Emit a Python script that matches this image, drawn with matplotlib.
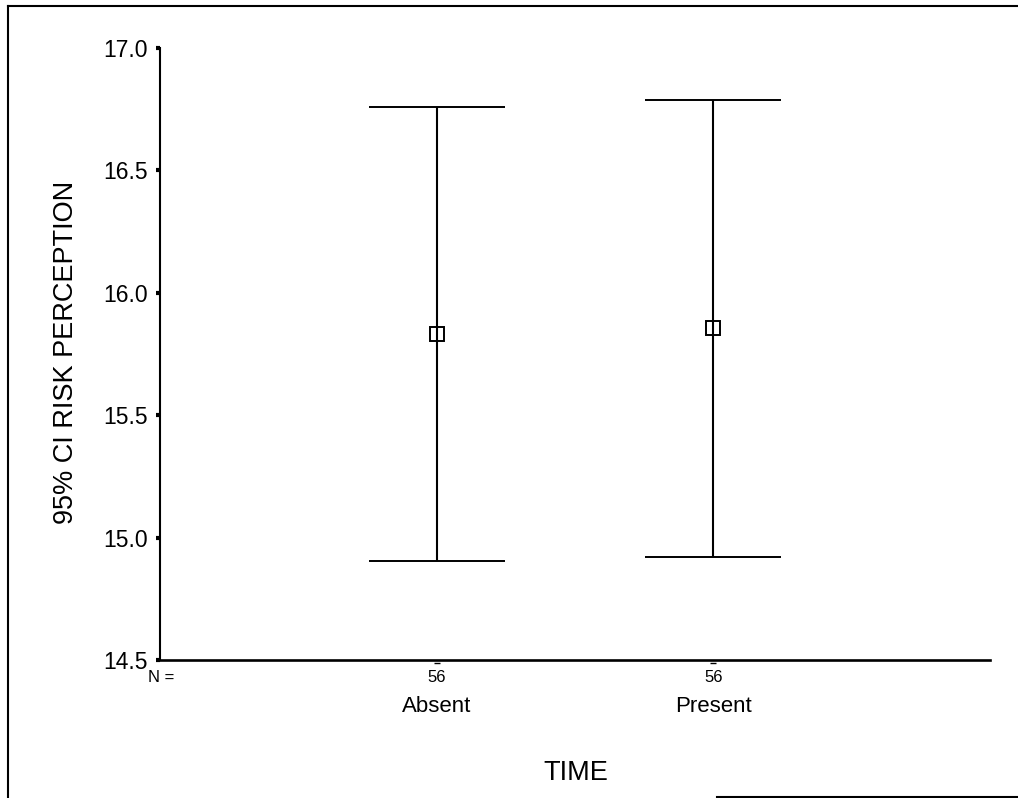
import matplotlib
matplotlib.use("Agg")
import matplotlib.pyplot as plt
import matplotlib.transforms as mtransforms
from matplotlib.lines import Line2D

# ---- data ----
categories = ["Absent", "Present"]
means = [15.83, 15.855]
ci_lower = [14.904, 14.921]
ci_upper = [16.759, 16.788]
n_values = [56, 56]
y_ticks = [14.5, 15.0, 15.5, 16.0, 16.5, 17.0]
y_label = "95% CI RISK PERCEPTION"
x_label = "TIME"

plt.rcParams["font.family"] = ["Liberation Sans", "DejaVu Sans"]

W, H = 1018, 798
fig = plt.figure(figsize=(W / 100, H / 100), dpi=100)
ax = fig.add_axes([160 / W, 1 - 660 / H, (990 - 160) / W, (660 - 48) / H])

xpos = [i + 1 for i in range(len(categories))]
err_lo = [m - l for m, l in zip(means, ci_lower)]
err_hi = [u - m for m, u in zip(means, ci_upper)]
ax.errorbar(xpos, means, yerr=[err_lo, err_hi], fmt="s", color="black",
            ecolor="black", elinewidth=1.5, capsize=49, capthick=1.7,
            markersize=9.5, markerfacecolor="none", markeredgewidth=1.4)

ax.set_xlim(0, 3)
ax.set_ylim(14.5, 17.0)
ax.set_yticks(y_ticks)
ax.set_yticklabels([f"{v:.1f}" for v in y_ticks], fontsize=16.5)
ax.set_xticks([])
ax.tick_params(axis="y", direction="out", length=3, width=3, pad=6)

for s in ["top", "right"]:
    ax.spines[s].set_visible(False)
ax.spines["left"].set_linewidth(1.5)
ax.spines["bottom"].set_linewidth(1.9)

# N values and category names below axis
tr = mtransforms.blended_transform_factory(ax.transData, fig.transFigure)
for x, n, c in zip(xpos, n_values, categories):
    ax.plot([x], [1 - 663 / H], marker="_", color="black", markersize=4,
            transform=tr, clip_on=False)
    fig.text(0, 0, str(n), transform=tr, fontsize=12, ha="center",
             va="center").set_position((x, 1 - 678 / H))
    fig.text(0, 0, c, transform=tr, fontsize=16, ha="center",
             va="center").set_position((x, 1 - 707 / H))
fig.text(161 / W, 1 - 678 / H, "N =", fontsize=12, ha="center", va="center")

fig.text(576 / W, 1 - 773 / H, x_label, fontsize=19.5, ha="center", va="center")
fig.text(66 / W, 1 - 352 / H, y_label, fontsize=19.5, rotation=90,
         ha="center", va="center")

# frame from the scanned page
fig.add_artist(Line2D([8 / W, 1.0], [1 - 6 / H, 1 - 6 / H], color="black",
                      lw=1.5, transform=fig.transFigure))
fig.add_artist(Line2D([8 / W, 8 / W], [1 - 6 / H, 0.0], color="black",
                      lw=1.5, transform=fig.transFigure))
fig.add_artist(Line2D([717 / W, 1.0], [1 - 797 / H, 1 - 797 / H],
                      color="black", lw=1.5, transform=fig.transFigure))

fig.savefig("out.png", dpi=100)
